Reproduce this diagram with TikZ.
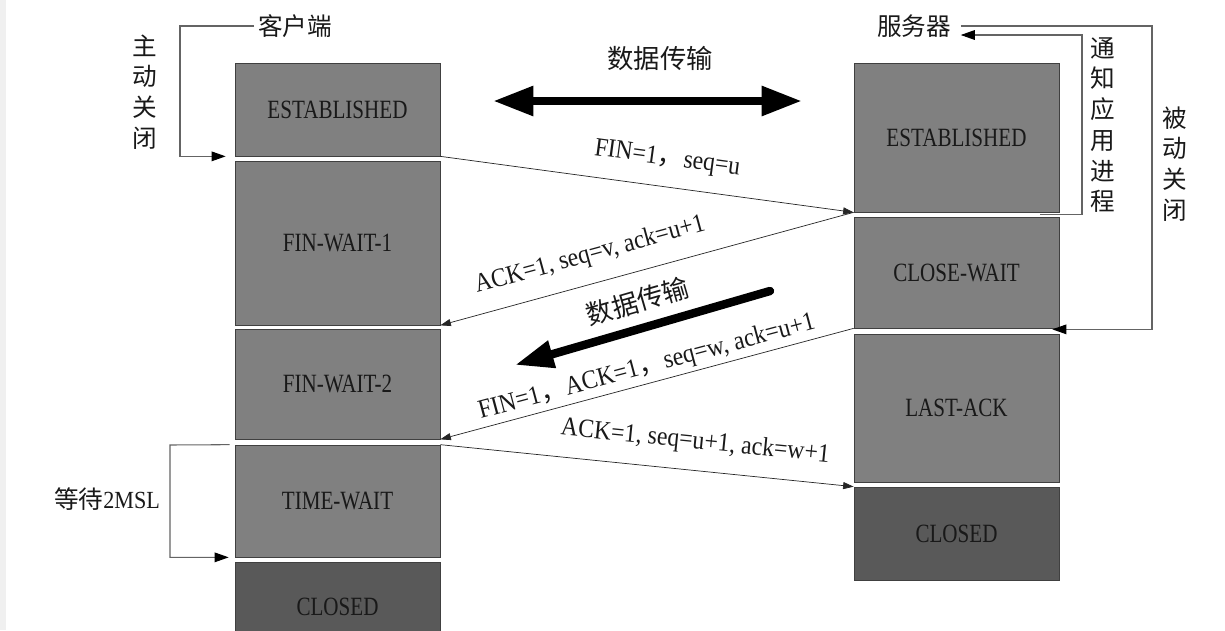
\documentclass[tikz,border=0pt]{standalone}
\usepackage{fontspec}
\setmainfont{Liberation Serif}
\newfontfamily\cjk{Noto Sans CJK SC}
\newfontfamily\statefont[FakeStretch=0.8]{Liberation Serif}
\newfontfamily\msgfont[FakeStretch=0.9]{Liberation Serif}
\definecolor{tcpgray}{RGB}{128,128,128}
\definecolor{tcpdark}{RGB}{89,89,89}
\definecolor{tcpline}{RGB}{64,64,64}
\definecolor{tcpbrk}{RGB}{100,100,100}
\definecolor{tcptext}{RGB}{25,25,25}
\usetikzlibrary{arrows.meta,calc}
\newcommand{\qj}{{\cjk ，}}
\tikzset{
  tcpstate/.style={rectangle,draw=tcpline,fill=#1,text=tcptext,
                   minimum width=4.1cm,inner sep=0pt,
                   font=\statefont\fontsize{15}{17}\selectfont},
  tcpstate/.default=tcpgray,
  msg/.style={-{Triangle[length=6pt,width=4pt]},thin,black!85},
  msglbl/.style={font=\msgfont\fontsize{15}{17}\selectfont,sloped,
                 inner sep=2pt,text=tcptext},
  brk/.style={-{Triangle[length=8pt,width=5.5pt,color=black]},semithick,draw=tcpbrk},
  cjklbl/.style={font=\cjk\fontsize{14}{17.5}\selectfont,text=tcptext,
                 align=center,inner sep=2pt},
  bigarr/.style={line width=4.8pt,black},
}
\begin{document}
\begin{tikzpicture}[x=0.02cm,y=-0.02cm]
  \useasboundingbox (0,0) rectangle (1225,630);
  \fill[white] (0,0) rectangle (1225,630);
  \fill[black!6] (0,0) rectangle (6,630);
  % client side
  \node[tcpstate,minimum height=1.86cm] (cest) at (337.5,109.5) {ESTABLISHED};
  \node[tcpstate,minimum height=3.28cm] (cfw1) at (337.5,243) {FIN-WAIT-1};
  \node[tcpstate,minimum height=2.2cm] (cfw2) at (337.5,384) {FIN-WAIT-2};
  \node[tcpstate,minimum height=2.24cm] (ctw) at (337.5,501) {TIME-WAIT};
  \node[tcpstate=tcpdark,minimum height=1.8cm] (ccl) at (337.5,607) {CLOSED};
  % server side
  \node[tcpstate,minimum height=2.98cm] (sest) at (956.5,137.5) {ESTABLISHED};
  \node[tcpstate,minimum height=2.22cm] (scw) at (956.5,272.5) {CLOSE-WAIT};
  \node[tcpstate,minimum height=2.96cm] (sla) at (956.5,408) {LAST-ACK};
  \node[tcpstate=tcpdark,minimum height=1.86cm] (scl) at (956.5,533.5) {CLOSED};
  % side labels
  \node[cjklbl] (kh) at (295,26) {客户端};
  \node[cjklbl] (fwq) at (914,26) {服务器};
  \node[cjklbl] (zdgb) at (145,92) {主\\动\\关\\闭};
  \node[cjklbl] (tzyy) at (1103,125) {通\\知\\应\\用\\进\\程};
  \node[cjklbl] (bdgb) at (1175,164) {被\\动\\关\\闭};
  \node[cjklbl] (ddmsl) at (107,499) {等待{\msgfont 2MSL}};
  % brackets
  \coordinate (zdturn) at (180,26);
  \draw[brk] (kh.west) -- (zdturn) |- ($(cest.south west)+(-9,0)$);
  \coordinate (bdturn) at (1152,26);
  \draw[brk] ($(fwq.east)+(6,0)$) -- (bdturn) |- ($(scw.south east)+(-7,1)$);
  \coordinate (tztop) at (1082,35);
  \draw[brk] ($(sest.south east)+(-19,2)$) -| (tztop) -- ($(fwq.east)+(6,9)$);
  \coordinate (w2turn) at (170,445);
  \draw[brk] ($(ctw.north west)+(-5,0)$) -- (w2turn) |- ($(ctw.south west)+(-6,0)$);
  % data transfer
  \coordinate (dt1l) at (493,101);
  \coordinate (dt1r) at (802,101);
  \draw[bigarr,{Triangle[length=23pt,width=16pt]}-{Triangle[length=23pt,width=16pt]}]
    (dt1l) -- (dt1r);
  \node[cjklbl,font=\cjk\fontsize{15}{17}\selectfont] (sj1) at (660,58) {数据传输};
  \coordinate (dt2s) at (770,291);
  \coordinate (dt2e) at (515,365);
  \draw[bigarr,line cap=round,-{Triangle[length=22pt,width=15pt]}]
    (dt2s) -- node[cjklbl,font=\cjk\fontsize{15}{17}\selectfont,sloped,pos=0.49,above=4pt] (sj2) {数据传输} (dt2e);
  % segments
  \draw[msg] (cest.south east) -- node[msglbl,pos=0.54,above=7pt] (m1) {FIN=1\qj seq=u} (sest.south west);
  \draw[msg] (sest.south west) -- node[msglbl,pos=0.62,above=7pt] (m2) {ACK=1, seq=v, ack=u+1} (cfw1.south east);
  \draw[msg] (scw.south west) -- node[msglbl,pos=0.49,above=0pt] (m3) {FIN=1\qj ACK=1\qj seq=w, ack=u+1} (cfw2.south east);
  \draw[msg] (ctw.north east) -- node[msglbl,pos=0.61,above=7pt] (m4) {ACK=1, seq=u+1, ack=w+1} (scl.north west);
\end{tikzpicture}
\end{document}
